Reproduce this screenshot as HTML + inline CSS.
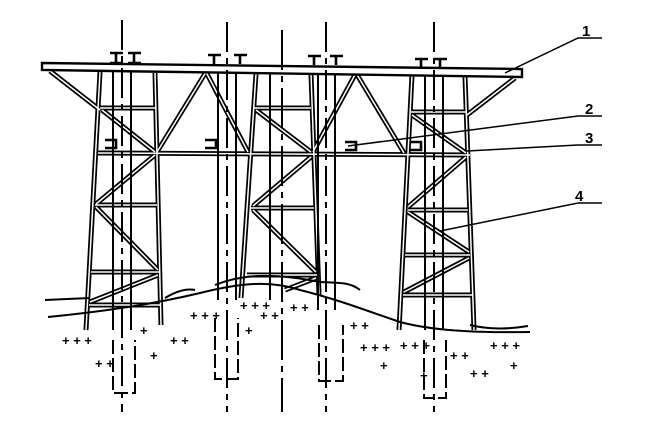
<!DOCTYPE html>
<html><head><meta charset="utf-8"><style>html,body{margin:0;padding:0;background:#fff}svg{display:block}</style></head>
<body>
<svg width="645" height="430" viewBox="0 0 645 430" xmlns="http://www.w3.org/2000/svg">
<defs>
<g id="m">
<line x1="100" y1="72" x2="86" y2="330"/><line x1="155" y1="73" x2="161" y2="325"/>
<line x1="256" y1="74" x2="241" y2="298"/><line x1="311" y1="74" x2="319" y2="295"/>
<line x1="412" y1="75" x2="399" y2="330"/><line x1="465" y1="76" x2="474" y2="330"/>
<line x1="100" y1="108" x2="155" y2="108"/><line x1="98" y1="153" x2="470" y2="155"/>
<line x1="95" y1="205" x2="157" y2="205"/><line x1="91" y1="272" x2="159" y2="272"/><line x1="89" y1="305" x2="160" y2="305"/>
<line x1="254" y1="108" x2="311" y2="108"/><line x1="251" y1="208" x2="314" y2="208"/><line x1="247" y1="275" x2="317" y2="275"/>
<line x1="411" y1="112" x2="466" y2="112"/><line x1="408" y1="210" x2="468" y2="210"/><line x1="405" y1="255" x2="470" y2="255"/><line x1="403" y1="295" x2="472" y2="295"/>
<line x1="102" y1="110" x2="155" y2="152"/><line x1="155" y1="155" x2="96" y2="204"/><line x1="96" y1="207" x2="158" y2="270"/><line x1="158" y1="275" x2="90" y2="302"/>
<line x1="256" y1="110" x2="311" y2="152"/><line x1="311" y1="157" x2="253" y2="206"/><line x1="253" y1="210" x2="316" y2="272"/><line x1="316" y1="278" x2="285" y2="290"/>
<line x1="412" y1="115" x2="466" y2="153"/><line x1="466" y1="157" x2="408" y2="207"/><line x1="408" y1="212" x2="469" y2="252"/><line x1="469" y1="258" x2="404" y2="292"/>
<line x1="206" y1="72" x2="157" y2="152"/><line x1="206" y1="72" x2="248" y2="152"/>
<line x1="356" y1="73" x2="313" y2="152"/><line x1="356" y1="73" x2="404" y2="153"/>
<line x1="50" y1="71" x2="100" y2="110"/><line x1="515" y1="78" x2="467" y2="115"/>
</g>
</defs>
<use href="#m" stroke="#000" stroke-width="5"/>
<use href="#m" stroke="#fff" stroke-width="1.5"/>
<polygon points="42,63 522,69 522,77 42,70" fill="#fff" stroke="#000" stroke-width="2.4"/>
<g stroke="#000" stroke-width="2" fill="none">
<line x1="113" y1="72" x2="113" y2="330"/><line x1="131" y1="72" x2="131" y2="330"/><line x1="122" y1="20" x2="122" y2="412" stroke-dasharray="30 6 6 6"/>
<line x1="218" y1="72" x2="218" y2="300"/><line x1="236" y1="72" x2="236" y2="300"/><line x1="227" y1="22" x2="227" y2="412" stroke-dasharray="30 6 6 6"/>
<line x1="270" y1="74" x2="270" y2="300"/><line x1="282" y1="30" x2="282" y2="412" stroke-dasharray="40 6 6 6"/>
<line x1="318" y1="74" x2="318" y2="310"/><line x1="335" y1="74" x2="335" y2="310"/><line x1="326" y1="22" x2="326" y2="412" stroke-dasharray="30 6 6 6"/>
<line x1="425" y1="75" x2="425" y2="330"/><line x1="443" y1="75" x2="443" y2="330"/><line x1="434" y1="22" x2="434" y2="412" stroke-dasharray="30 6 6 6"/>
<path d="M113,340 V393 H135 V340" stroke-dasharray="14 4"/><path d="M215,318 V379 H238 V318" stroke-dasharray="14 4"/><path d="M319,325 V381 H343 V325" stroke-dasharray="14 4"/><path d="M424,340 V398 H446 V340" stroke-dasharray="14 4"/>
<path d="M110,53 H123 M116,53 V63 M110,63 H123 M128,53 H141 M134,53 V63 M128,63 H141" stroke-width="2.6"/>
<path d="M208,55 H221 M214,55 V64 M234,55 H247 M240,55 V64" stroke-width="2.6"/>
<path d="M308,56 H321 M314,56 V65 M330,56 H343 M336,56 V65" stroke-width="2.6"/>
<path d="M415,59 H428 M421,59 V68 M434,59 H447 M440,59 V68" stroke-width="2.6"/>
<path d="M105,140 H116 V148 H105 M205,140 H216 V148 H205 M345,142 H356 V150 H345 M410,142 H421 V150 H410" stroke-width="2.6"/>
<path d="M48,317 C100,312 150,305 200,293 C240,283 270,280 300,290 C340,300 370,312 400,322 C430,330 470,333 530,332"/>
<path d="M45,300 L90,298 M165,298 C175,292 185,288 195,290 M215,285 C240,275 270,272 320,282 C340,283 350,282 360,290 M470,325 C490,330 510,329 528,326"/>
<path d="M505,73 L578,38 H602 M348,146 L578,116 H602 M467,151 L578,145 H602 M440,231 L578,203 H602" stroke-width="1.5"/>
</g>
<g font-family="Liberation Sans, sans-serif" font-size="15" font-weight="bold" fill="#000">
<text x="582" y="36">1</text><text x="585" y="114">2</text><text x="585" y="143">3</text><text x="575" y="201">4</text>
</g>
<g font-family="Liberation Sans, sans-serif" font-size="13" font-weight="bold" fill="#000">
<text x="62" y="345">+ + +</text><text x="95" y="368">+ +</text><text x="140" y="335">+</text><text x="150" y="360">+</text>
<text x="170" y="345">+ +</text><text x="190" y="320">+ + +</text><text x="240" y="310">+ + +</text><text x="245" y="335">+</text>
<text x="260" y="320">+ +</text><text x="290" y="312">+ +</text><text x="350" y="330">+ +</text><text x="360" y="352">+ + +</text>
<text x="400" y="350">+ + +</text><text x="450" y="360">+ +</text><text x="470" y="378">+ +</text><text x="490" y="350">+ + +</text>
<text x="510" y="370">+</text><text x="380" y="370">+</text><text x="420" y="380">+</text>
</g>
</svg>
</body></html>
